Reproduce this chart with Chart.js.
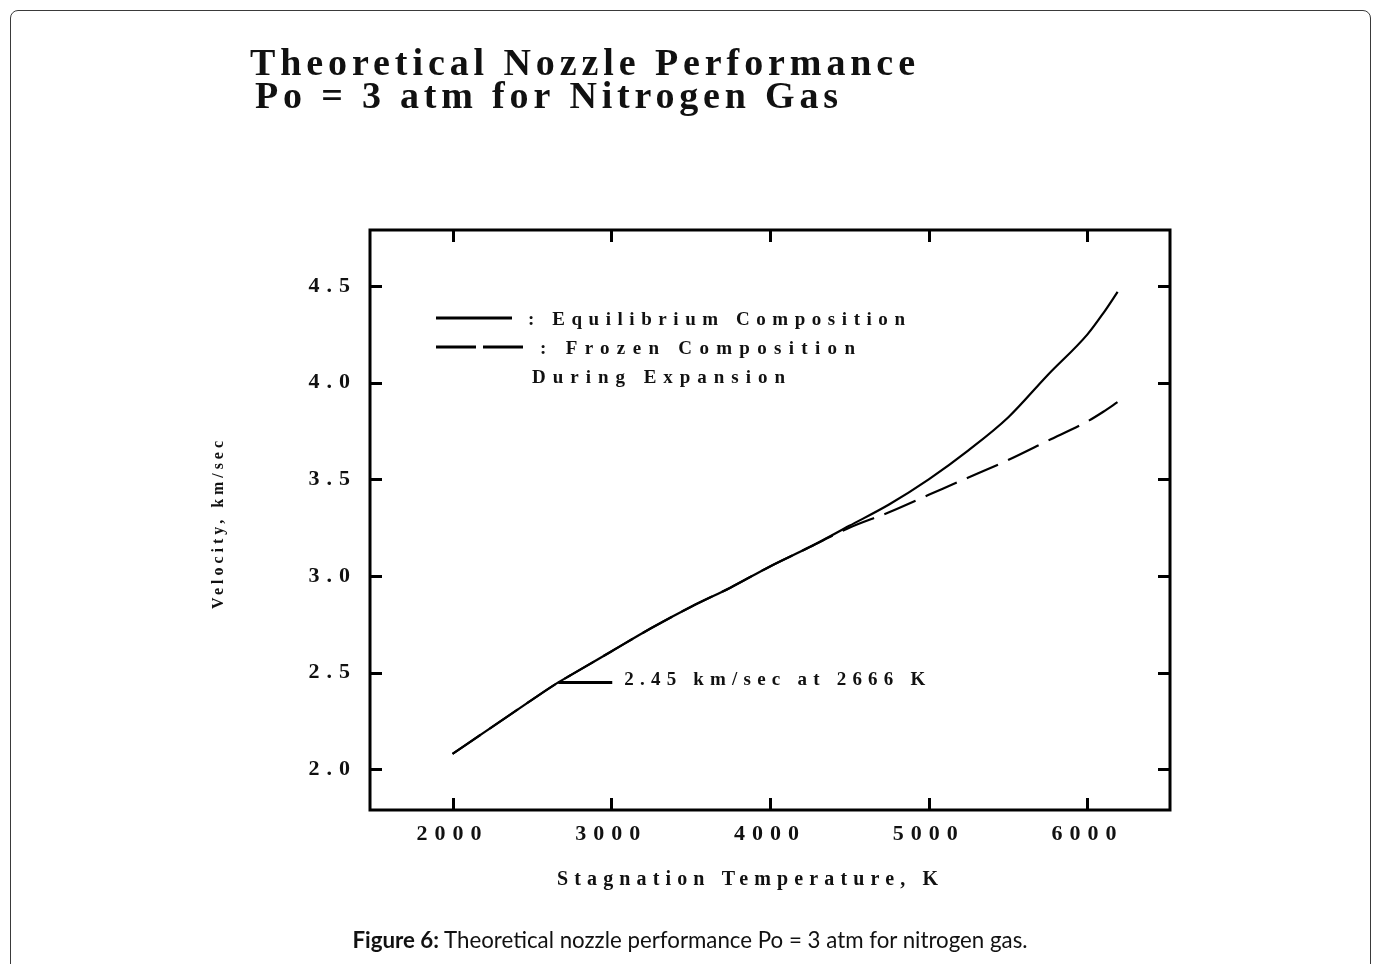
<!DOCTYPE html>
<html>
<head>
<meta charset="utf-8">
<script src="https://cdn.jsdelivr.net/npm/chart.js@4.4.1/dist/chart.umd.min.js"></script>
<style>
  html, body { margin: 0; padding: 0; background: #fff; width: 1373px; height: 964px; overflow: hidden; }
  #frame { position: absolute; left: 10px; top: 10px; width: 1359px; height: 1000px; border: 1px solid #3a3a3a; border-radius: 8px; }
  #wrap { position: absolute; left: 0; top: 0; width: 1373px; height: 964px; }
  #caption { position: absolute; left: 0; width: 1380px; top: 926px; text-align: center;
             font-family: Lato, "Open Sans", sans-serif; font-size: 22.3px; color: #111; }
</style>
</head>
<body>
<div id="frame"></div>
<div id="wrap"><canvas id="c" width="1373" height="964"></canvas></div>
<div id="caption"><b>Figure 6:</b> Theoretical nozzle performance Po = 3 atm for nitrogen gas.</div>
<script>
// Stagnation temperature (K) and exit velocity (km/sec)
const temperatures        = [2000, 2250, 2500, 2666, 2750, 3000, 3250, 3500, 3750, 4000, 4250, 4500, 4750, 5000, 5250, 5500, 5750, 6000, 6100, 6190];
const equilibriumVelocity = [2.08, 2.22, 2.36, 2.45, 2.49, 2.61, 2.73, 2.84, 2.94, 3.05, 3.15, 3.26, 3.37, 3.50, 3.65, 3.82, 4.04, 4.25, 4.36, 4.47];
const frozenVelocity      = [2.08, 2.22, 2.36, 2.45, 2.49, 2.61, 2.73, 2.84, 2.94, 3.05, 3.15, 3.25, 3.33, 3.42, 3.51, 3.60, 3.70, 3.80, 3.85, 3.90];

// Axis ticks
const temperatureTicks = [2000, 3000, 4000, 5000, 6000];
const velocityTicks    = [2.0, 2.5, 3.0, 3.5, 4.0, 4.5];

// Marked design point
const markTemperature = 2666;
const markVelocity    = 2.45;

const SERIF = '"Liberation Serif", "DejaVu Serif", serif';
const INK = '#111';

function points(ys) { return temperatures.map((t, i) => ({ x: t, y: ys[i] })); }

// Draws text spread out so that it spans the given width
function spacedText(ctx, text, x, y, width, font) {
  ctx.font = font;
  ctx.letterSpacing = '0px';
  const w = ctx.measureText(text).width;
  const s = text.length > 1 ? (width - w) / (text.length - 1) : 0;
  ctx.letterSpacing = s + 'px';
  ctx.textAlign = 'left';
  ctx.textBaseline = 'middle';
  ctx.fillText(text, x, y);
  ctx.letterSpacing = '0px';
}

const decorations = {
  id: 'decorations',
  beforeDraw(chart) {
    // wide tracking for the tick labels
    chart.ctx.letterSpacing = '7px';
  },
  afterDraw(chart) {
    const ctx = chart.ctx;
    const a = chart.chartArea;
    const xs = chart.scales.x, ys = chart.scales.y;
    ctx.save();
    ctx.letterSpacing = '0px';
    ctx.strokeStyle = '#000';
    ctx.fillStyle = INK;

    // plot frame
    ctx.lineWidth = 3;
    ctx.strokeRect(a.left, a.top, a.right - a.left, a.bottom - a.top);

    // inward tick marks on all four sides
    const tl = 12;
    ctx.beginPath();
    velocityTicks.forEach(v => {
      const p = Math.round(ys.getPixelForValue(v)) + 0.5;
      ctx.moveTo(a.left, p); ctx.lineTo(a.left + tl, p);
      ctx.moveTo(a.right, p); ctx.lineTo(a.right - tl, p);
    });
    temperatureTicks.forEach(t => {
      const p = Math.round(xs.getPixelForValue(t)) + 0.5;
      ctx.moveTo(p, a.bottom); ctx.lineTo(p, a.bottom - tl);
      ctx.moveTo(p, a.top); ctx.lineTo(p, a.top + tl);
    });
    ctx.stroke();

    // legend
    ctx.lineWidth = 3;
    ctx.beginPath();
    ctx.moveTo(436, 318); ctx.lineTo(512, 318);
    ctx.stroke();
    ctx.beginPath();
    ctx.setLineDash([40, 7]);
    ctx.moveTo(436, 347); ctx.lineTo(524, 347);
    ctx.stroke();
    ctx.setLineDash([]);
    const legendFont = 'bold 19px ' + SERIF;
    spacedText(ctx, ': Equilibrium Composition', 528, 320, 377, legendFont);
    spacedText(ctx, ': Frozen Composition', 540, 349, 315, legendFont);
    spacedText(ctx, 'During Expansion', 532, 378, 253, legendFont);

    // design point callout
    const mx = xs.getPixelForValue(markTemperature);
    const my = ys.getPixelForValue(markVelocity);
    ctx.lineWidth = 3;
    ctx.beginPath();
    ctx.moveTo(mx, my); ctx.lineTo(mx + 54, my);
    ctx.stroke();
    spacedText(ctx, markVelocity.toFixed(2) + ' km/sec at ' + markTemperature + ' K', mx + 66, my - 2, 301, 'bold 19px ' + SERIF);

    // axis titles
    spacedText(ctx, 'Stagnation Temperature, K', 557, 880, 381, 'bold 20px ' + SERIF);
    ctx.save();
    ctx.translate(219, 525);
    ctx.rotate(-Math.PI / 2);
    spacedText(ctx, 'Velocity, km/sec', -84, 0, 168, 'bold 16px ' + SERIF);
    ctx.restore();

    // chart title
    spacedText(ctx, 'Theoretical Nozzle Performance', 250, 65, 665, 'bold 38px ' + SERIF);
    spacedText(ctx, 'Po = 3 atm for Nitrogen Gas', 255, 98, 583, 'bold 38px ' + SERIF);

    ctx.restore();
  }
};

const tickFont = { family: SERIF, weight: 'bold', size: 22 };

new Chart(document.getElementById('c'), {
  type: 'line',
  data: {
    datasets: [
      {
        label: 'Equilibrium Composition',
        data: points(equilibriumVelocity),
        borderColor: '#000',
        borderWidth: 2.2,
        pointRadius: 0,
        cubicInterpolationMode: 'monotone',
        fill: false
      },
      {
        label: 'Frozen Composition During Expansion',
        data: points(frozenVelocity),
        borderColor: '#000',
        borderWidth: 2.2,
        borderDash: [34, 11],
        pointRadius: 0,
        cubicInterpolationMode: 'monotone',
        fill: false
      }
    ]
  },
  options: {
    responsive: false,
    animation: false,
    layout: { padding: { left: 0, top: 230, right: 203, bottom: 0 } },
    plugins: {
      legend: { display: false },
      title: { display: false },
      tooltip: { enabled: false }
    },
    scales: {
      x: {
        type: 'linear',
        min: 1480,
        max: 6520,
        grid: { display: false },
        border: { display: false },
        afterBuildTicks: s => { s.ticks = temperatureTicks.map(v => ({ value: v })); },
        afterFit: s => { s.height = 154; },
        ticks: { font: tickFont, color: INK, padding: 3, maxRotation: 0, autoSkip: false,
                 callback: v => String(v) }
      },
      y: {
        type: 'linear',
        min: 1.79,
        max: 4.79,
        grid: { display: false },
        border: { display: false },
        afterBuildTicks: s => { s.ticks = velocityTicks.map(v => ({ value: v })); },
        afterFit: s => { s.width = 370; },
        ticks: { font: tickFont, color: INK, padding: 5, autoSkip: false,
                 callback: v => Number(v).toFixed(1) }
      }
    }
  },
  plugins: [decorations]
});
</script>
</body>
</html>
